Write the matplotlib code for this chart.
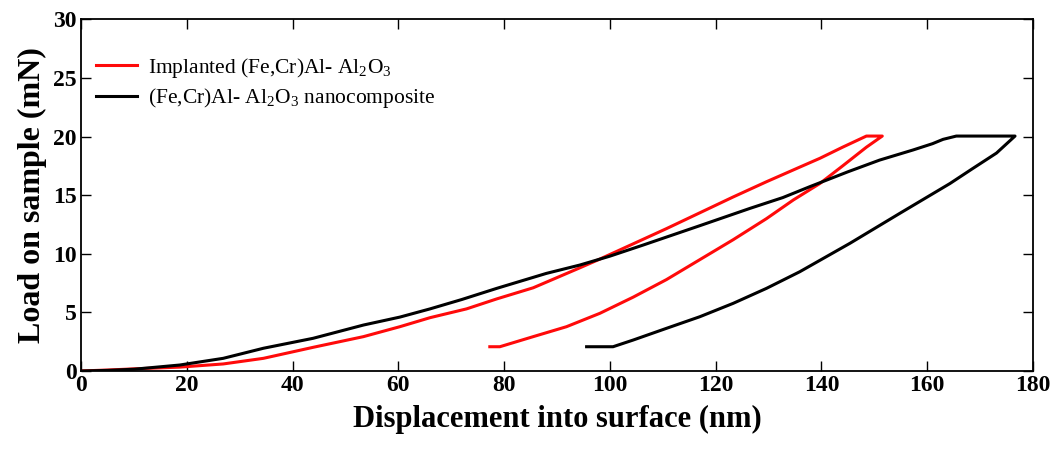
import matplotlib.pyplot as plt

plt.rcParams['font.family'] = ['Liberation Serif', 'DejaVu Serif']
plt.rcParams['mathtext.fontset'] = 'custom'
plt.rcParams['mathtext.rm'] = 'Liberation Serif'

# Implanted sample: loading, hold, unloading
red_x = [0, 5, 10, 18.7, 26.9, 34.5, 43.9, 53.4, 60.3, 66, 72.9, 78.6, 85.5, 89.9,
         94.3, 98.1, 104.4, 110.7, 117, 123.3, 129.6, 135.9, 139.7, 144, 148.5,
         151.5,
         148.5, 144, 139.7, 134.7, 129.6, 123.3, 117, 110.7, 104.4, 98.1, 91.8,
         85.5, 79.2, 77.3]
red_y = [0, 0.08, 0.18, 0.33, 0.6, 1.08, 2.02, 2.93, 3.78, 4.55, 5.3, 6.15, 7.1, 7.95,
         8.8, 9.55, 10.85, 12.15, 13.5, 14.85, 16.15, 17.4, 18.15, 19.1, 20.05,
         20.05,
         19.1, 17.5, 16.0, 14.6, 13.0, 11.2, 9.5, 7.8, 6.3, 4.92, 3.78,
         2.93, 2.07, 2.07]

# Nanocomposite: loading, hold, unloading
blk_x = [0, 5, 10, 18.7, 26.9, 34.5, 43.9, 53.4, 60.3, 66, 72, 78.6, 88, 94.3, 100,
         106.3, 117, 126.5, 132.7, 137.8, 145, 151, 157.3, 161, 163, 165.5,
         176.6,
         173.1, 168.5, 164.3, 154.8, 145.4, 135.9, 129.6, 123.3, 117, 110.7,
         104.4, 100.6, 95.6]
blk_y = [0, 0.05, 0.15, 0.51, 1.08, 1.94, 2.79, 3.92, 4.6, 5.3, 6.1, 7.05, 8.33, 9.04, 9.8,
         10.75, 12.4, 13.88, 14.8, 15.73, 17.0, 18.0, 18.86, 19.4, 19.77, 20.05,
         20.05,
         18.6, 17.25, 16.0, 13.45, 10.9, 8.47, 7.05, 5.77, 4.63, 3.64,
         2.64, 2.07, 2.07]

labels = ['Implanted (Fe,Cr)Al- Al$_\\mathregular{2}$O$_\\mathregular{3}$',
          '(Fe,Cr)Al- Al$_\\mathregular{2}$O$_\\mathregular{3}$ nanocomposite']

fig = plt.figure(figsize=(10.57, 4.5), dpi=100)
ax = fig.add_axes([0.0766, 0.1756, 0.9007, 0.7811])

ax.plot(red_x, red_y, color='#ff0a0a', lw=2.2, label=labels[0])
ax.plot(blk_x, blk_y, color='black', lw=2.2, label=labels[1])

ax.set_xlim(0, 180)
ax.set_ylim(0, 30)
ax.set_xticks(range(0, 181, 20))
ax.set_yticks(range(0, 31, 5))
ax.tick_params(direction='in', length=7, width=1, top=True, right=True, labelsize=17, pad=3)
for lab in ax.get_xticklabels() + ax.get_yticklabels():
    lab.set_fontweight('bold')
for s in ax.spines.values():
    s.set_linewidth(1.3)

ax.set_xlabel('Displacement into surface (nm)', fontsize=22, fontweight='bold', labelpad=6)
ax.set_ylabel('Load on sample (mN)', fontsize=23, fontweight='bold', labelpad=4)

ax.legend(loc='upper left', frameon=False, fontsize=15.5, handlelength=1.9,
          handletextpad=0.5, borderaxespad=0.3, labelspacing=0.3,
          bbox_to_anchor=(0.0, 0.94))

fig.savefig('out.png', dpi=100)
